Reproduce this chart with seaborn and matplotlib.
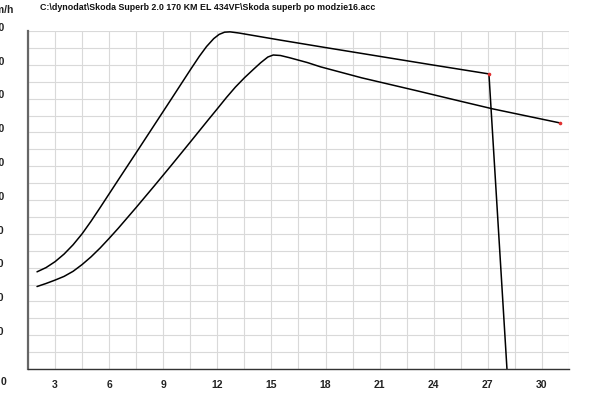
import numpy as np
import pandas as pd
import seaborn as sns
import matplotlib.pyplot as plt
from matplotlib.transforms import ScaledTranslation, blended_transform_factory

# run data (time in s, speed in km/h)
upper_t = [2.0, 2.5, 3.0, 3.5, 4.0, 4.5, 5.0, 5.5, 6.5, 7.5, 8.5, 9.5, 10.5, 11.0,
           11.4, 11.8, 12.1, 12.4, 12.7, 13.2, 15.5, 18.0, 21.0, 24.0, 27.06, 28.06]
upper_v = [57.5, 60.0, 63.5, 68.0, 73.5, 80.0, 87.5, 95.5, 111.8, 128.0, 144.3, 160.6,
           177.0, 185.0, 190.8, 195.5, 198.0, 199.3, 199.5, 198.8, 194.6, 190.2, 185.0,
           179.8, 174.6, 0.0]
lower_t = [2.0, 2.5, 3.0, 3.5, 4.0, 4.5, 5.0, 5.5, 6.0, 6.5, 7.0, 7.5, 8.5, 9.5, 10.5,
           11.5, 12.0, 12.5, 13.0, 13.5, 14.0, 14.4, 14.8, 15.1, 15.5, 16.0, 17.0, 17.72,
           20.0, 23.0, 25.5, 27.28, 31.0]
lower_v = [48.8, 50.6, 52.6, 54.8, 57.8, 61.8, 66.4, 71.6, 77.3, 83.2, 89.4, 95.6,
           108.3, 121.2, 134.3, 147.5, 154.0, 160.6, 166.8, 172.3, 177.3, 181.2, 184.6,
           185.8, 185.5, 184.2, 181.3, 178.8, 172.3, 164.8, 158.4, 153.9, 145.6]

x_ticks = np.arange(1.5, 31.6, 1.5)
x_labels = [str(int(t)) if t % 3 == 0 else '' for t in x_ticks]
y_ticks = [200, 180, 160, 140, 120, 100, 80, 60, 40, 20]
title = 'C:\\dynodat\\Skoda Superb 2.0 170 KM EL 434VF\\Skoda superb po modzie16.acc'

sns.set_theme(style='white')
plt.rcParams['font.family'] = ['Liberation Sans', 'DejaVu Sans']

fig = plt.figure(figsize=(6, 4), dpi=100)
ax = fig.add_axes([28 / 600, 31 / 400, 541 / 600, 338 / 400])

up = pd.DataFrame({'t': upper_t, 'v': upper_v})
lo = pd.DataFrame({'t': lower_t, 'v': lower_v})
sns.lineplot(data=up, x='t', y='v', ax=ax, color='black', linewidth=1.1,
             sort=False, estimator=None)
sns.lineplot(data=lo, x='t', y='v', ax=ax, color='black', linewidth=1.1,
             sort=False, estimator=None)
# little red end markers
ax.plot([upper_t[-2]], [upper_v[-2]], 'o', color='#e03030', ms=1.6)
ax.plot([lower_t[-1]], [lower_v[-1]], 'o', color='#e03030', ms=1.6)

ax.set_xlim(1.5, 31.5)
ax.set_ylim(0, 200)
ax.set_xticks(x_ticks)
ax.set_xticklabels(x_labels, fontsize=7.5, fontweight='bold', color='#222222')
ax.set_yticks(np.arange(0, 201, 10), minor=True)
ax.set_yticks(y_ticks)
ax.set_yticklabels([str(v) for v in y_ticks], fontsize=7.5, fontweight='bold', color='#222222')
ax.grid(True, which='both', color='#d9d9d9', linewidth=0.8)
ax.set_axisbelow(True)
ax.tick_params(axis='x', direction='out', length=3, width=0.8, color='#333333', pad=5)
ax.tick_params(axis='y', which='both', length=0, pad=17)
for lab in ax.get_yticklabels():
    lab.set_transform(lab.get_transform() + ScaledTranslation(0, 3 / 72, fig.dpi_scale_trans))

for s in ['top', 'right']:
    ax.spines[s].set_visible(False)
ax.spines['left'].set_color('#666666')
ax.spines['left'].set_linewidth(1.6)
ax.spines['bottom'].set_color('#333333')
ax.spines['bottom'].set_linewidth(1.0)
ax.set_xlabel('')
ax.set_ylabel('')

# stray "0" at the far left of the time axis
ax.text(0, -13 / 338, '0', transform=blended_transform_factory(ax.transData, ax.transAxes),
        ha='left', va='center', fontsize=7.5, fontweight='bold', color='#222222', clip_on=False)
fig.text(14 / 600, 1 - 10 / 400, 'km/h', ha='right', va='center', fontsize=7.5,
         fontweight='bold', color='#222222')
fig.text(40 / 600, 1 - 8 / 400, title, ha='left', va='center', fontsize=6.4,
         fontweight='bold', color='#111111')

fig.savefig('out.png', dpi=100)
